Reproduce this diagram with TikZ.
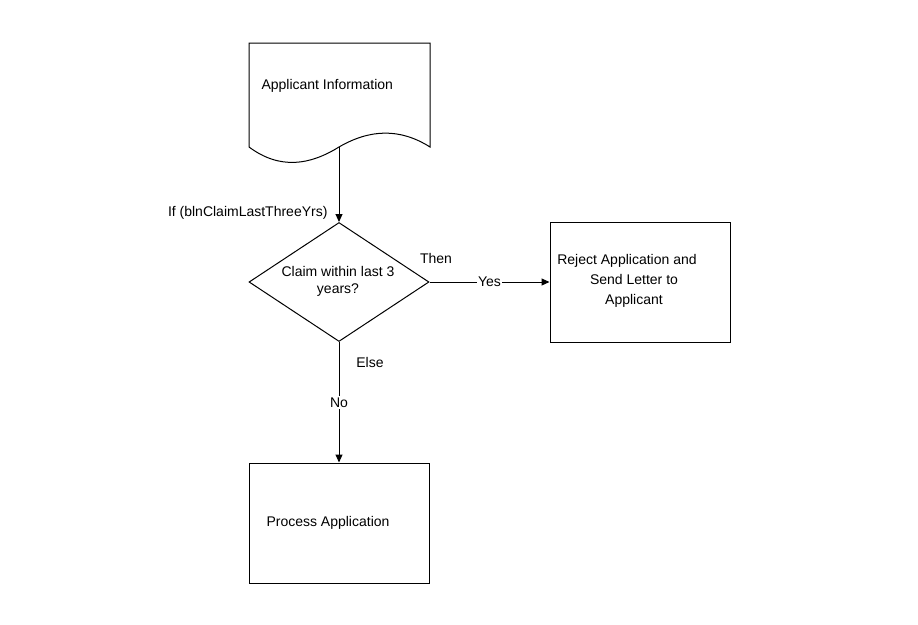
\documentclass[tikz,border=0pt]{standalone}
\usepackage{fontspec}
\setmainfont{Liberation Sans}
\usetikzlibrary{shapes.geometric,arrows.meta}
\begin{document}
\begin{tikzpicture}[x=1pt,y=-1pt,line width=1pt,
  txt/.style={font=\fontsize{14}{20}\selectfont, inner sep=0pt},
  box/.style={draw, minimum width=180pt, minimum height=120pt, inner sep=0pt},
  dec/.style={draw, shape=diamond, minimum width=180pt, minimum height=119pt, inner sep=0pt},
  arr/.style={-{Triangle[length=8pt,width=7pt]}},
  lbl/.style={txt, fill=white, inner sep=1.5pt}]
\useasboundingbox (0,0) rectangle (918,624);
\fill[white] (0,0) rectangle (918,624);
% document shape
\draw (249,147) -- (249,43) -- (430,43) -- (430,147)
  .. controls (400,128) and (370,129) .. (339,147)
  .. controls (310,165) and (280,170) .. (249,147) -- cycle;
\coordinate (docb) at (339,147);
\node[txt, anchor=west] (doc) at (261,86) {Applicant Information};
% decision
\node[dec] (dec) at (339,282) {};
\node[txt, align=center] (dect) at (338,281) {Claim within last 3\\[-3pt]years?};
\draw[arr] (docb) -- (dec.north);
\node[txt, anchor=east] (iflbl) at (328,213) {If (blnClaimLastThreeYrs)};
% reject box
\node[box] (rej) at (640,282) {};
\node[txt, align=center] (rejt) at (634,281) {Reject Application and\hspace*{14pt}\\Send Letter to\\Applicant};
\draw[arr] (dec.east) -- node[lbl] (yes) {Yes} (rej.west);
\node[txt] (then) at (436,258) {Then};
% process box
\node[box] (proc) at (339,523) {};
\node[txt] (proct) at (328,523) {Process Application};
\draw[arr] (dec.south) -- node[lbl] (no) {No} (proc.north);
\node[txt] (else) at (370,362) {Else};
\end{tikzpicture}
\end{document}
